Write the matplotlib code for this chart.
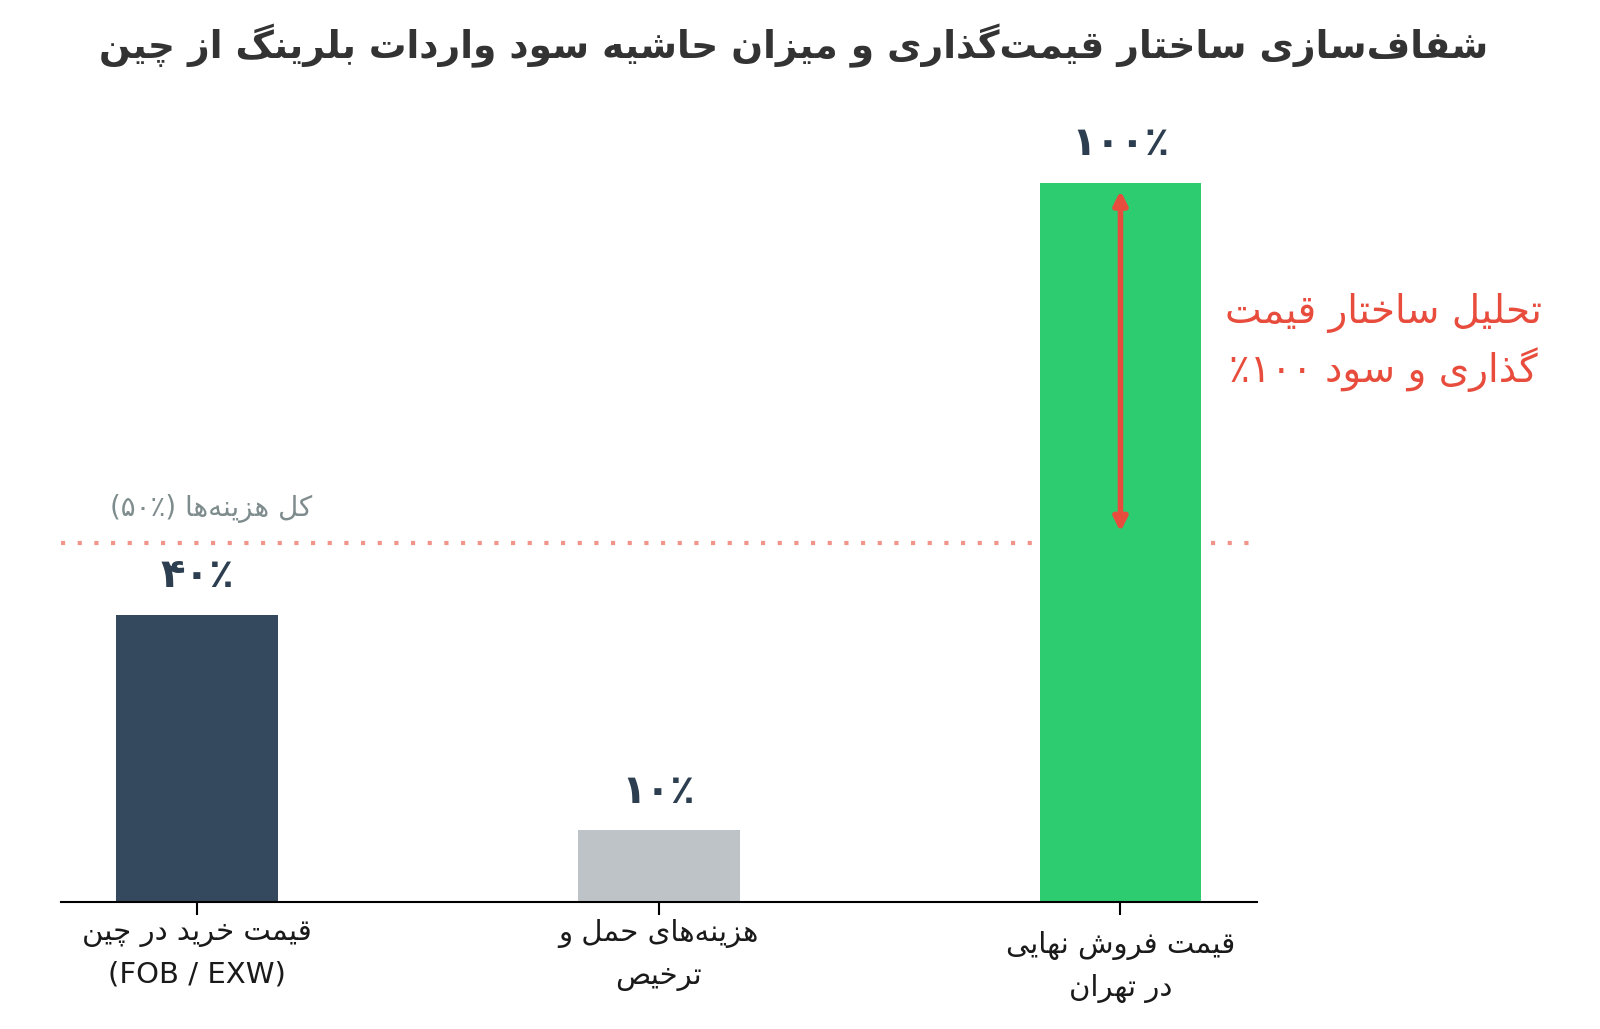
import numpy as np
import matplotlib
matplotlib.use('Agg')
import matplotlib.pyplot as plt
import matplotlib.transforms as mtransforms

# --- داده‌ها ---
categories = ['قیمت خرید در چین', 'هزینه‌های حمل و\nترخیص', 'قیمت فروش نهایی\nدر تهران']
category_sub = ['(FOB / EXW)', '', '']
values = [40, 10, 100]
value_labels = ['۴۰٪', '۱۰٪', '۱۰۰٪']
bar_colors = ['#34495e', '#bdc3c7', '#2ecc71']
total_cost = 50
title = 'شفاف‌سازی ساختار قیمت‌گذاری و میزان حاشیه سود واردات بلرینگ از چین'
cost_label = 'کل هزینه‌ها (۵۰٪)'
note_lines = ['تحلیل ساختار قیمت', 'گذاری و سود ٪۱۰۰']

# --- شکل‌دهی ساده حروف فارسی (matplotlib خودش این کار را نمی‌کند) ---
# حرف: (تنها, پایانی, آغازی, میانی)
FORMS = {
    'ا': (0xFE8D, 0xFE8E, None, None), 'آ': (0xFE81, 0xFE82, None, None),
    'ب': (0xFE8F, 0xFE90, 0xFE91, 0xFE92), 'پ': (0xFB56, 0xFB57, 0xFB58, 0xFB59),
    'ت': (0xFE95, 0xFE96, 0xFE97, 0xFE98), 'ث': (0xFE99, 0xFE9A, 0xFE9B, 0xFE9C),
    'ج': (0xFE9D, 0xFE9E, 0xFE9F, 0xFEA0), 'چ': (0xFB7A, 0xFB7B, 0xFB7C, 0xFB7D),
    'ح': (0xFEA1, 0xFEA2, 0xFEA3, 0xFEA4), 'خ': (0xFEA5, 0xFEA6, 0xFEA7, 0xFEA8),
    'د': (0xFEA9, 0xFEAA, None, None), 'ذ': (0xFEAB, 0xFEAC, None, None),
    'ر': (0xFEAD, 0xFEAE, None, None), 'ز': (0xFEAF, 0xFEB0, None, None),
    'ژ': (0xFB8A, 0xFB8B, None, None),
    'س': (0xFEB1, 0xFEB2, 0xFEB3, 0xFEB4), 'ش': (0xFEB5, 0xFEB6, 0xFEB7, 0xFEB8),
    'ص': (0xFEB9, 0xFEBA, 0xFEBB, 0xFEBC), 'ض': (0xFEBD, 0xFEBE, 0xFEBF, 0xFEC0),
    'ط': (0xFEC1, 0xFEC2, 0xFEC3, 0xFEC4), 'ظ': (0xFEC5, 0xFEC6, 0xFEC7, 0xFEC8),
    'ع': (0xFEC9, 0xFECA, 0xFECB, 0xFECC), 'غ': (0xFECD, 0xFECE, 0xFECF, 0xFED0),
    'ف': (0xFED1, 0xFED2, 0xFED3, 0xFED4), 'ق': (0xFED5, 0xFED6, 0xFED7, 0xFED8),
    'ک': (0xFB8E, 0xFB8F, 0xFB90, 0xFB91), 'گ': (0xFB92, 0xFB93, 0xFB94, 0xFB95),
    'ل': (0xFEDD, 0xFEDE, 0xFEDF, 0xFEE0), 'م': (0xFEE1, 0xFEE2, 0xFEE3, 0xFEE4),
    'ن': (0xFEE5, 0xFEE6, 0xFEE7, 0xFEE8), 'و': (0xFEED, 0xFEEE, None, None),
    'ه': (0xFEE9, 0xFEEA, 0xFEEB, 0xFEEC), 'ی': (0xFBFC, 0xFBFD, 0xFBFE, 0xFBFF),
}
LTR = set('0123456789۰۱۲۳۴۵۶۷۸۹٪%') | set('abcdefghijklmnopqrstuvwxyzABCDEFGHIJKLMNOPQRSTUVWXYZ')


def joins_next(c):
    return c in FORMS and FORMS[c][2] is not None


def fa_line(text):
    """شکل‌دهی حروف و برگرداندن ترتیب برای نمایش راست به چپ"""
    shaped = []
    n = len(text)
    for i, c in enumerate(text):
        if c == '\u200c':
            continue
        if c not in FORMS:
            shaped.append(c)
            continue
        prev = text[i - 1] if i > 0 else ''
        nxt = text[i + 1] if i < n - 1 else ''
        p = joins_next(prev)
        q = joins_next(c) and nxt in FORMS
        iso, fin, ini, med = FORMS[c]
        if p and q:
            shaped.append(chr(med))
        elif p:
            shaped.append(chr(fin))
        elif q:
            shaped.append(chr(ini))
        else:
            shaped.append(chr(iso))
    # ترتیب نمایشی: برعکس، ولی اعداد چپ به راست
    runs = []
    for c in shaped:
        if c in LTR and runs and runs[-1][0] == 'L':
            runs[-1][1].append(c)
        elif c in LTR:
            runs.append(['L', [c]])
        else:
            runs.append(['R', [c]])
    out = []
    for kind, chars in reversed(runs):
        if kind == 'L':
            out.extend(chars)
        else:
            c = chars[0]
            out.append({'(': ')', ')': '('}.get(c, c))
    return ''.join(out)


def fa(text):
    return '\n'.join(fa_line(t) for t in text.split('\n'))


plt.rcParams['font.family'] = ['DejaVu Sans']

W, H = 1568, 1008   # اندازه‌ی تصویر مرجع (نمایش)
fig = plt.figure(figsize=(16, 10.29), dpi=100)
ax = fig.add_axes([60 / W, 1 - 884 / H, 1172 / W, 784 / H])

x = np.arange(len(categories))
ax.bar(x, values, width=0.35, color=bar_colors, zorder=2)
ax.set_xlim(-0.294, 2.296)
ax.set_ylim(0, 111.2)

for xi, v, lab in zip(x, values, value_labels):
    ax.text(xi, v + 5.4, lab, ha='center', va='center', fontsize=29,
            fontweight='bold', color='#2c3e50')

ax.axhline(total_cost, color='#f1948a', linestyle=(0, (1, 3)), linewidth=3, zorder=1)
ax.text(0.03, 54.8, fa(cost_label), ha='center', va='center',
        fontsize=20, color='#7f8c8d')

ax.annotate('', xy=(2, 98.9), xytext=(2, 51.5),
            arrowprops=dict(arrowstyle='<|-|>', color='#e74c3c', lw=4,
                            mutation_scale=20, shrinkA=0, shrinkB=0))
ax.text(2.57, 77.8, fa('\n'.join(note_lines)), ha='center', va='center', fontsize=28,
        color='#e74c3c', linespacing=1.42, clip_on=False)

ticklabels = []
for c, s in zip(categories, category_sub):
    t = fa(c)
    if s:
        t = t + '\n' + s
    ticklabels.append(t)
ax.set_xticks(x)
ax.set_xticklabels(ticklabels, fontsize=21, color='#1a1a1a', linespacing=1.62)
ax.tick_params(axis='x', length=9, width=1.5, pad=3)
# برچسب سوم در مرجع کمی پایین‌تر است
lab3 = ax.get_xticklabels()[2]
lab3.set_transform(lab3.get_transform() +
                   mtransforms.ScaledTranslation(0, -12 / 100, fig.dpi_scale_trans))
ax.set_yticks([])
for s in ['top', 'right', 'left']:
    ax.spines[s].set_visible(False)
ax.spines['bottom'].set_linewidth(1.5)

fig.text(778 / W, 1 - 45 / H, fa(title), ha='center', va='center',
         fontsize=27, fontweight='bold', color='#333333')

fig.savefig('out.png', dpi=100)
